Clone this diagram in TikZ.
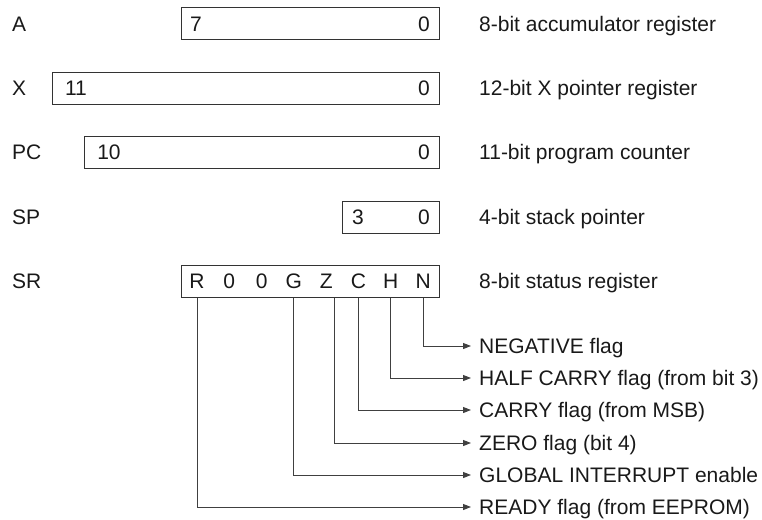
\documentclass[tikz,border=0pt]{standalone}
\usepackage{fontspec}
\setmainfont{Liberation Sans}
\usetikzlibrary{arrows.meta}

\tikzset{
    regbox/.style={draw=black!80, line width=1pt, minimum height=32pt, inner sep=0pt},
    txt/.style={font=\fontsize{21}{25}\selectfont, text=black!90, text height=15pt, text depth=0pt, inner sep=0pt},
    flagline/.style={draw=black!75, line width=1pt, -{Triangle[length=8pt,width=6pt]}},
}

\begin{document}
\begin{tikzpicture}[x=1pt, y=-1pt]
    \useasboundingbox (0,0) rectangle (762,519);

    % Register A
    \node[txt, anchor=west] (nameA) at (12,24) {A};
    \node[regbox, minimum width=258pt] (regA) at (310,24) {};
    \node[txt] (hiA) at (196,24) {7};
    \node[txt] (loA) at (424,24) {0};
    \node[txt, anchor=west] (descA) at (479,24) {8-bit accumulator register};

    % Register X
    \node[txt, anchor=west] (nameX) at (12,88) {X};
    \node[regbox, minimum width=387pt] (regX) at (245.5,88) {};
    \node[txt] (hiX) at (76,88) {11};
    \node[txt] (loX) at (424,88) {0};
    \node[txt, anchor=west] (descX) at (479,88) {12-bit X pointer register};

    % Program counter
    \node[txt, anchor=west] (namePC) at (12,152) {PC};
    \node[regbox, minimum width=355pt] (regPC) at (261.5,152) {};
    \node[txt] (hiPC) at (109,152) {10};
    \node[txt] (loPC) at (424,152) {0};
    \node[txt, anchor=west] (descPC) at (479,152) {11-bit program counter};

    % Stack pointer
    \node[txt, anchor=west] (nameSP) at (12,217) {SP};
    \node[regbox, minimum width=97pt] (regSP) at (390.5,217) {};
    \node[txt] (hiSP) at (358,217) {3};
    \node[txt] (loSP) at (424,217) {0};
    \node[txt, anchor=west] (descSP) at (479,217) {4-bit stack pointer};

    % Status register with its flag bits
    \node[txt, anchor=west] (nameSR) at (12,281) {SR};
    \node[regbox, minimum width=258pt] (regSR) at (310,281) {};
    \foreach \b [count=\i from 0] in {R,0,0,G,Z,C,H,N} {
        \node[txt] (bit\i) at (197+32.3*\i,281) {\b};
    }
    \node[txt, anchor=west] (descSR) at (479,281) {8-bit status register};

    % Flag connectors
    \foreach \n/\dx/\y/\t in {7/0/346/{NEGATIVE flag},
                              6/0/378/{HALF CARRY flag (from bit 3)},
                              5/0/410/{CARRY flag (from MSB)},
                              4/8/443/{ZERO flag (bit 4)},
                              3/0/475/{GLOBAL INTERRUPT enable},
                              0/0/507/{READY flag (from EEPROM)}} {
        \node[txt, anchor=west, inner xsep=8pt] (flag\n) at (471,\y) {\t};
        \coordinate (top\n) at ([xshift=\dx pt]bit\n.center |- regSR.south);
        \draw[flagline] (top\n) |- (flag\n.west);
    }
\end{tikzpicture}
\end{document}
